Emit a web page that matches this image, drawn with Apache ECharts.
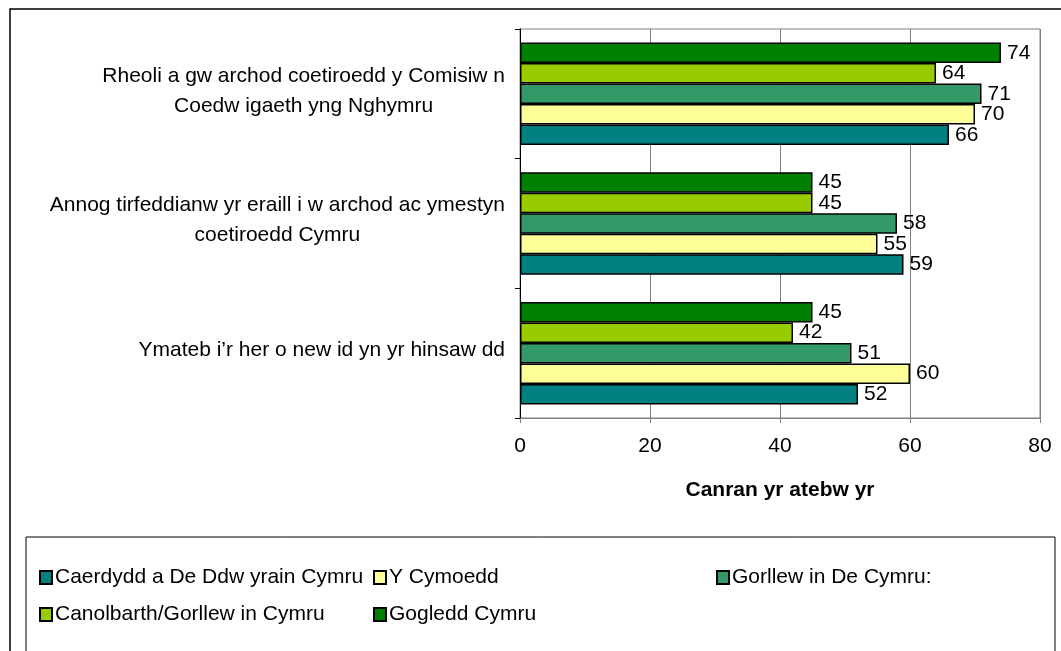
<!DOCTYPE html>
<html>
<head>
<meta charset="utf-8">
<script src="https://cdn.jsdelivr.net/npm/echarts@6/dist/echarts.min.js"></script>
<style>
  html, body { margin: 0; padding: 0; background: #fff; }
  #main { width: 1061px; height: 651px; }
</style>
</head>
<body>
<div id="main"></div>
<script>
// categories, top to bottom as in the picture
var categories = [
  "Rheoli a gw archod coetiroedd y Comisiw n\nCoedw igaeth yng Nghymru",
  "Annog tirfeddianw yr eraill i w archod ac ymestyn\ncoetiroedd Cymru",
  "Ymateb i\u2019r her o new id yn yr hinsaw dd"
];

// one array per region
var caerdydd = [66, 59, 52];
var cymoedd = [70, 55, 60];
var gorllewDe = [71, 58, 51];
var canolbarth = [64, 45, 42];
var gogledd = [74, 45, 45];

var seriesNames = [
  "Caerdydd a De Ddw yrain Cymru",
  "Y Cymoedd",
  "Gorllew in De Cymru:",
  "Canolbarth/Gorllew in Cymru",
  "Gogledd Cymru"
];
var seriesColors = ["#008080", "#ffff99", "#339966", "#99cc00", "#008000"];
var seriesData = [caerdydd, cymoedd, gorllewDe, canolbarth, gogledd];

var xMin = 0, xMax = 80, xStep = 20;
var axisTitle = "Canran yr atebw yr";

var font = "'Liberation Sans', Arial, sans-serif";
var fs = 21;

var myChart = echarts.init(document.getElementById("main"));

// echarts puts the first series at the top of each group, so add them in reverse
var series = [];
for (var i = seriesData.length - 1; i >= 0; i--) {
  series.push({
    name: seriesNames[i],
    type: "bar",
    data: seriesData[i],
    barGap: "0%",
    barCategoryGap: "21%",
    itemStyle: { color: seriesColors[i], borderColor: "#000", borderWidth: 1.5 },
    label: {
      show: true,
      position: "right",
      distance: 6,
      color: "#000",
      fontFamily: font,
      fontSize: fs
    }
  });
}

// legend laid out like the original box: two rows, three columns
var legendPos = [
  { left: 34, top: 562 },
  { left: 368, top: 562 },
  { left: 711, top: 562 },
  { left: 34, top: 599 },
  { left: 368, top: 599 }
];
var legends = seriesNames.map(function (name, k) {
  return {
    data: [name],
    left: legendPos[k].left,
    top: legendPos[k].top,
    orient: "horizontal",
    icon: "rect",
    itemWidth: 12,
    itemHeight: 13,
    itemGap: 4,
    selectedMode: false,
    textStyle: { fontFamily: font, fontSize: fs, color: "#000", padding: [0, 0, 0, -2] }
  };
});

var option = {
  backgroundColor: "#fff",
  animation: false,
  legend: legends,
  grid: {
    left: 520,
    top: 29,
    width: 520,
    height: 389,
    show: true,
    borderColor: "#808080",
    borderWidth: 1
  },
  xAxis: {
    type: "value",
    min: xMin,
    max: xMax,
    interval: xStep,
    name: axisTitle,
    nameLocation: "middle",
    nameGap: 62,
    nameTextStyle: { fontFamily: font, fontSize: 21, fontWeight: "bold", color: "#000" },
    axisLine: { show: true, lineStyle: { color: "#808080", width: 1 } },
    axisTick: { show: true, length: 5, lineStyle: { color: "#808080" } },
    axisLabel: { fontFamily: font, fontSize: fs, color: "#000", margin: 18 },
    splitLine: { show: true, lineStyle: { color: "#808080", width: 1 } }
  },
  yAxis: {
    type: "category",
    inverse: true,
    data: categories,
    axisLine: { show: true, lineStyle: { color: "#000", width: 1 } },
    axisTick: { show: true, length: 5, lineStyle: { color: "#000" } },
    axisLabel: {
      margin: 15,
      fontFamily: font,
      fontSize: fs,
      color: "#000",
      lineHeight: 30,
      padding: [0, 0, 6, 0],
      formatter: function (value) {
        return value.split("\n").map(function (line) {
          return "{c|" + line + "}";
        }).join("\n");
      },
      rich: {
        c: { align: "center", fontFamily: font, fontSize: fs, color: "#000", lineHeight: 30 }
      }
    }
  },
  graphic: [
    {
      type: "rect",
      shape: { x: 10, y: 9, width: 1100, height: 700 },
      style: { fill: null, stroke: "#000", lineWidth: 1.5 },
      silent: true
    },
    {
      type: "rect",
      shape: { x: 26, y: 537, width: 1029, height: 200 },
      style: { fill: null, stroke: "#000", lineWidth: 1 },
      silent: true
    }
  ],
  series: series
};

myChart.setOption(option);
</script>
</body>
</html>
